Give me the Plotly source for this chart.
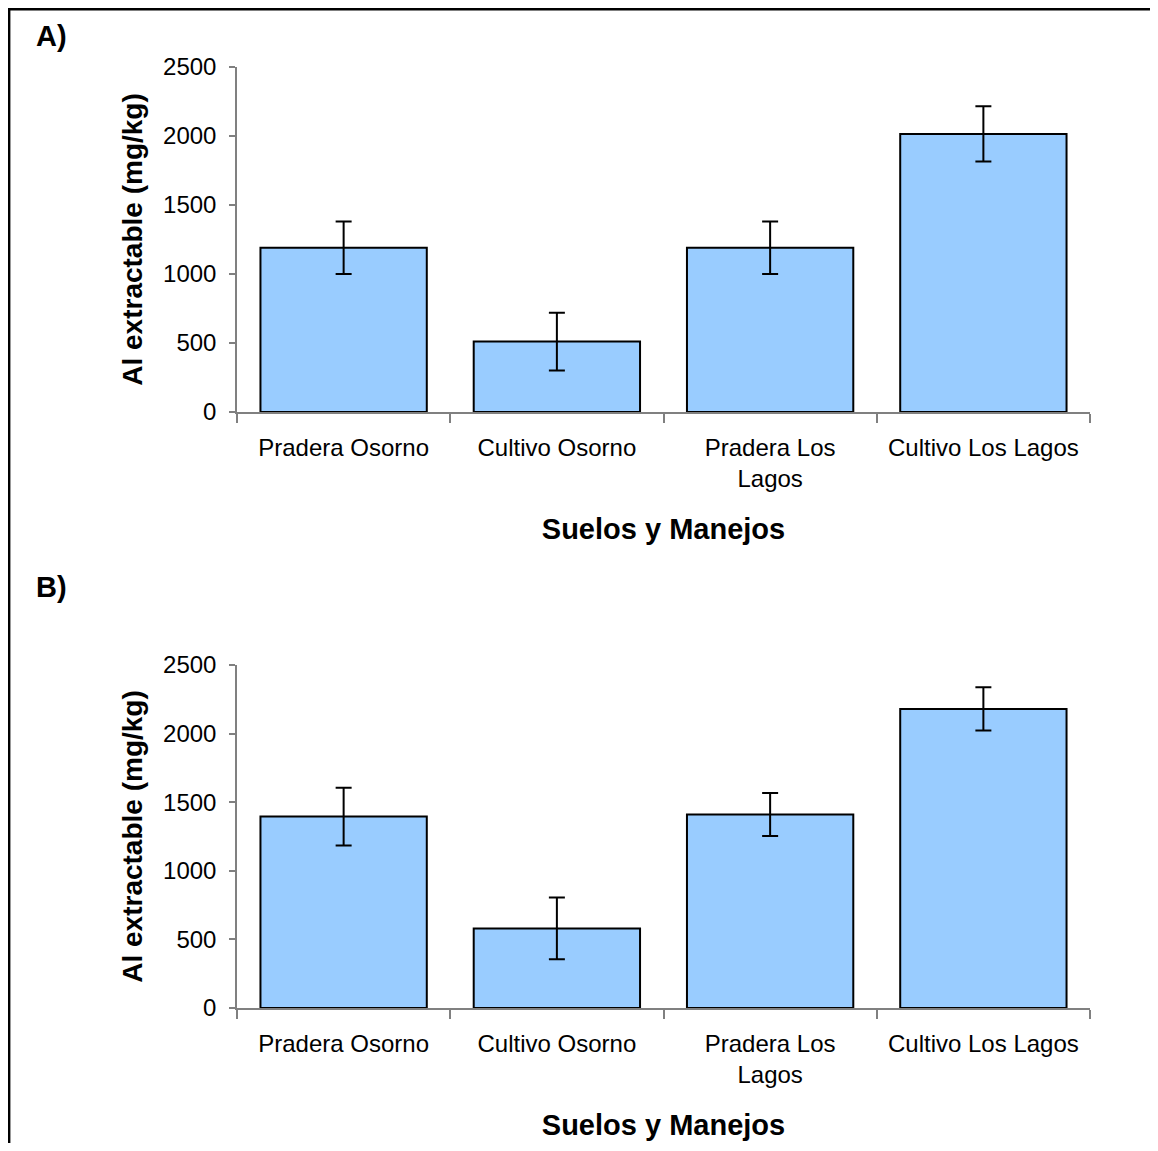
import plotly.graph_objects as go

categories = ["Pradera Osorno", "Cultivo Osorno", "Pradera Los<br>Lagos", "Cultivo Los Lagos"]
values_a = [1190, 510, 1190, 2015]
errors_a = [190, 210, 190, 200]
values_b = [1395, 580, 1410, 2180]
errors_b = [210, 225, 157, 157]
y_ticks = [0, 500, 1000, 1500, 2000, 2500]

OFF = 8  # page body margin
W, H = 1158 - 2 * OFF, 1151 - 2 * OFF
FONT = "Arial, Liberation Sans, sans-serif"
BAR_COLOR = "#99CCFF"
AXIS_COLOR = "#808080"


def px_x(p):
    return (p - OFF) / W


def px_y(p):
    return 1 - (p - OFF) / H


fig = go.Figure()

for vals, errs, xa, ya in [(values_a, errors_a, "x", "y"), (values_b, errors_b, "x2", "y2")]:
    fig.add_trace(go.Bar(
        x=categories, y=vals, xaxis=xa, yaxis=ya,
        marker=dict(color=BAR_COLOR, line=dict(color="black", width=2)),
        error_y=dict(type="data", array=errs, color="black", thickness=2, width=8),
        showlegend=False,
    ))

xdom = [px_x(237), px_x(1090)]
common_x = dict(
    automargin=False,
    showline=True, linecolor=AXIS_COLOR, linewidth=1.5,
    ticks="outside", tickson="boundaries", ticklen=9, tickcolor=AXIS_COLOR, tickwidth=1.5,
    tickfont=dict(family=FONT, size=24, color="black"),
    ticklabelstandoff=13,
    showgrid=False, zeroline=False,
    title=dict(text="<b>Suelos y Manejos</b>", font=dict(family=FONT, size=29, color="black"), standoff=28),
)
common_y = dict(
    automargin=False,
    range=[0, 2500], tickvals=y_ticks,
    showline=True, linecolor=AXIS_COLOR, linewidth=1.5,
    ticks="outside", ticklen=6, tickcolor=AXIS_COLOR, tickwidth=1.5,
    tickfont=dict(family=FONT, size=24, color="black"),
    ticklabelstandoff=8,
    showgrid=False, zeroline=False,
    title=dict(text="<b>Al extractable (mg/kg)</b>", font=dict(family=FONT, size=28, color="black"), standoff=12),
)

fig.update_layout(
    template="none",
    width=W, height=H,
    autosize=False,
    margin=dict(l=0, r=0, t=0, b=0, pad=0),
    paper_bgcolor="white", plot_bgcolor="white",
    font=dict(family=FONT, color="black"),
    bargap=0.22,
    xaxis=dict(domain=xdom, anchor="y", **common_x),
    yaxis=dict(domain=[px_y(412), px_y(67)], anchor="x", **common_y),
    xaxis2=dict(domain=xdom, anchor="y2", **common_x),
    yaxis2=dict(domain=[px_y(1008), px_y(665)], anchor="x2", **common_y),
    annotations=[
        dict(text="<b>A)</b>", x=px_x(34), y=px_y(36), xref="paper", yref="paper",
             xanchor="left", yanchor="middle", showarrow=False,
             font=dict(family=FONT, size=29, color="black")),
        dict(text="<b>B)</b>", x=px_x(34), y=px_y(587), xref="paper", yref="paper",
             xanchor="left", yanchor="middle", showarrow=False,
             font=dict(family=FONT, size=29, color="black")),
    ],
    shapes=[
        dict(type="rect", xref="paper", yref="paper",
             x0=1.2 / W, x1=1.05, y0=-0.05, y1=1 - 1.2 / H,
             line=dict(color="black", width=2.4), fillcolor="rgba(0,0,0,0)", layer="below"),
    ],
)

fig.write_html("out.html", config={"displayModeBar": False})
